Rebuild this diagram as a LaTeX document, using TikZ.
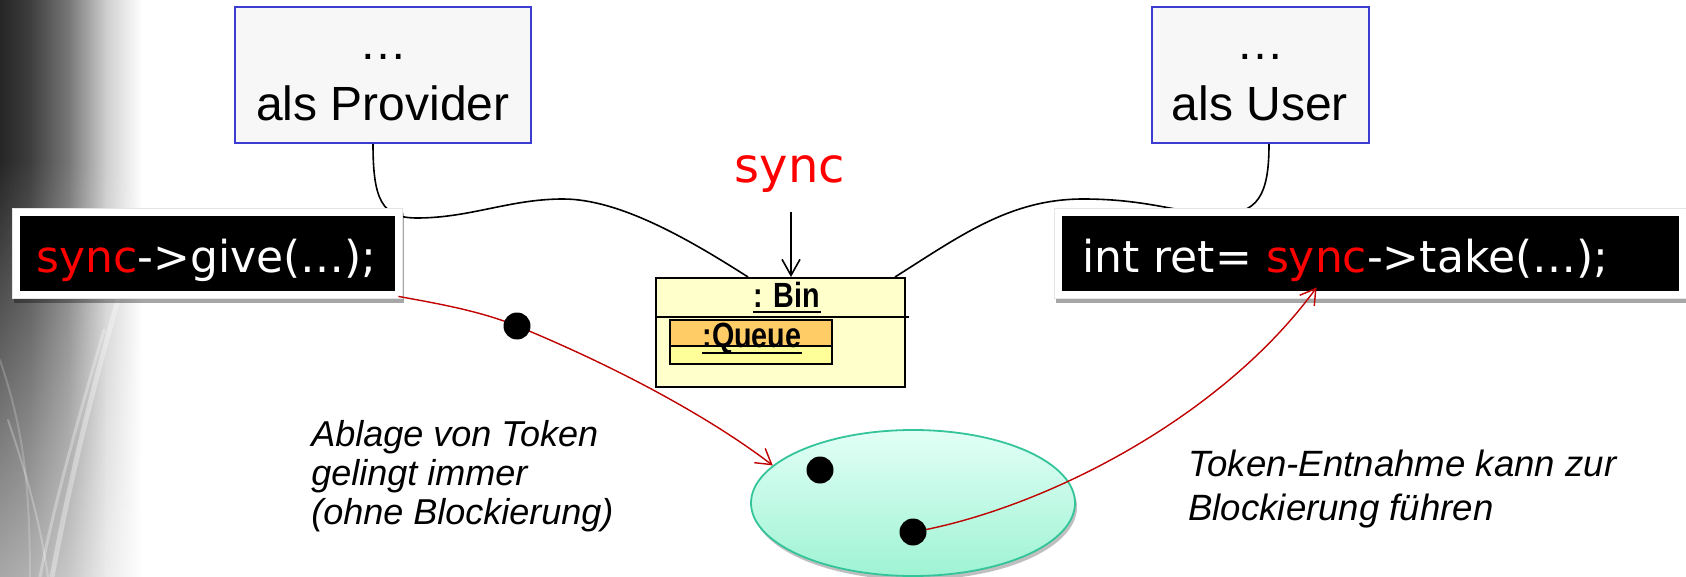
\documentclass[tikz,border=0pt]{standalone}
\usepackage{fontspec}
\setmainfont{Liberation Sans}
\newfontfamily\codefont{DejaVu Sans}
\newfontfamily\umlfont[FakeStretch=0.82]{Liberation Sans}
\usetikzlibrary{arrows.meta,shapes.geometric,shadows,fadings,calc}

\definecolor{boxblue}{HTML}{3C3CD2}
\definecolor{boxgray}{HTML}{F7F7F7}
\definecolor{binfill}{HTML}{FFFFCC}
\definecolor{qhead}{HTML}{FFCC66}
\definecolor{qbody}{HTML}{FFFF99}
\definecolor{poolline}{HTML}{33C49A}
\definecolor{pooltop}{HTML}{E2FFF6}
\definecolor{poolbot}{HTML}{9FF3D4}
\definecolor{flowred}{HTML}{C00000}
\definecolor{codered}{HTML}{FF0000}
\definecolor{stripA}{HTML}{262626}
\definecolor{stripB}{HTML}{3E3E3E}
\definecolor{stripC}{HTML}{7A7A7A}
\definecolor{stripD}{HTML}{CDCDCD}

\begin{document}
\begin{tikzpicture}[x=0.5pt,y=-0.5pt,
  rolebox/.style={draw=boxblue,line width=1pt,fill=boxgray,inner sep=0,
    minimum width=#1,minimum height=68pt},
  roletext/.style={font=\fontsize{24}{28}\selectfont,inner sep=0,anchor=base},
  codeframe/.style={fill=white,draw=black!10,line width=0.4pt,inner sep=0,
    minimum width=#1,minimum height=45pt,
    drop shadow={shadow xshift=1pt,shadow yshift=-2.5pt,opacity=0.35,fill=black}},
  codebg/.style={fill=black,inner sep=0,minimum width=#1,minimum height=37.5pt},
  codetext/.style={font=\codefont\fontsize{22}{26}\selectfont,text=white,
    inner sep=0,anchor=base west},
  synctext/.style={font=\codefont\fontsize{24}{28}\selectfont,text=codered,
    inner sep=0,anchor=base},
  umltext/.style={font=\umlfont\bfseries\fontsize{17.5}{20}\selectfont,
    inner sep=0,anchor=base},
  note/.style 2 args={font=\itshape\fontsize{#1}{#2}\selectfont,align=left,
    inner sep=0,anchor=north west},
  link/.style={line width=0.8pt},
  flow/.style={draw=flowred,line width=0.7pt,
    -{Straight Barb[length=7.5pt,width=9pt]}},
  token/.style={circle,fill=black,inner sep=0,minimum size=13.5pt},
  streak/.style={draw=white,line cap=round}]

\useasboundingbox (0,0) rectangle (1686,577);

% shaded strip along the left margin
\shade[left color=stripA,right color=stripB] (0,0) rectangle (31,577);
\shade[left color=stripB,right color=stripC] (30,0) rectangle (71,577);
\shade[left color=stripC,right color=stripD] (70,0) rectangle (106,577);
\shade[left color=stripD,right color=white] (105,0) rectangle (142,577);
\fill[white,path fading=north,fill opacity=0.6] (0,160) rectangle (142,577);
% faint fibres in the lower part of the strip
\draw[streak,line width=2.5pt,opacity=0.35] (52,577) .. controls (70,480) and (92,390) .. (118,300);
\draw[streak,line width=1.5pt,opacity=0.3] (40,577) .. controls (55,500) and (78,420) .. (104,330);
\draw[streak,line width=1pt,opacity=0.25] (8,420) .. controls (25,470) and (40,520) .. (48,577);
\draw[streak,line width=1pt,opacity=0.2] (0,360) .. controls (20,420) and (30,470) .. (30,577);

% roles
\node[rolebox=148pt] (prov) at (383,75) {};
\node[roletext] (provdots) at (383,60) {…};
\node[roletext] (provlbl) at (383,121) {als Provider};
\node[rolebox=108.5pt] (user) at (1260.5,75) {};
\node[roletext] (userdots) at (1260,60) {…};
\node[roletext] (userlbl) at (1260,121) {als User};

% the Bin object with its Queue part
\node[draw,line width=1pt,fill=binfill,inner sep=0,minimum width=124.5pt,
      minimum height=54.5pt] (bin) at (780.5,332.5) {};
\draw[line width=1pt] ($(bin.north west)+(0,40)$) -- ($(bin.north east)+(3,40)$);
\node[draw,line width=0.8pt,fill=qbody,inner sep=0,minimum width=81pt,
      minimum height=22pt] (queue) at (751,342) {};
\node[draw,line width=0.8pt,fill=qhead,inner sep=0,minimum width=81pt,
      minimum height=13pt] (qtop) at (751,333) {};
\node[umltext] (binlbl) at (787,307) {: Bin};
\draw[line width=1pt] ([yshift=-2.5pt]binlbl.base west) -- ([yshift=-2.5pt]binlbl.base east);
\node[umltext] (queuelbl) at (752,347) {:Queue};
\draw[line width=1pt] ([yshift=-3pt]queuelbl.base west) -- ([yshift=-3pt]queuelbl.base east);

% connections of the roles to the Bin
\coordinate (provfoot) at ($(prov.south)+(-10,0)$);
\coordinate (userfoot) at ($(user.south)+(8.5,0)$);
\coordinate (binL) at ($(bin.north)+(-32.5,0)$);
\coordinate (binR) at ($(bin.north)+(114.5,0)$);
\draw[link] (provfoot) .. controls (373,200) and (382,218) .. (417,218)
  .. controls (470,218) and (510,199) .. (563,199)
  .. controls (620,199) and (690,240) .. (binL);
\draw[link] (binR) .. controls (960,236) and (1010,199) .. (1083,199)
  .. controls (1150,199) and (1180,214) .. (1220,214)
  .. controls (1258,214) and (1269,195) .. (userfoot);

% reference name pointing at the Bin
\node[synctext] (synclbl) at (790,183) {sync};
\coordinate (syncfoot) at ($(synclbl.base)+(1,29)$);
\draw[link,-{Straight Barb[length=8pt,width=9pt]}] (syncfoot) -- ($(bin.north)+(10.5,0)$);

% code statements
\node[codeframe=195pt] (giveframe) at (207,253) {};
\node[codebg=187.5pt] (give) at (207.5,253.5) {};
\node[codetext] (givetxt) at (36,272) {\textcolor{codered}{sync}->give(…);};
\node[codeframe=316pt] (takeframe) at (1370,253) {};
\node[codebg=308.5pt] (take) at (1370.5,253.5) {};
\node[codetext] (taketxt) at (1082,272) {int ret= \textcolor{codered}{sync}->take(…);};

% token pool
\node[ellipse,draw=poolline,line width=0.9pt,top color=pooltop,bottom color=poolbot,
      inner sep=0,minimum width=162pt,minimum height=73pt,
      drop shadow={shadow xshift=1pt,shadow yshift=-2pt,opacity=0.25,fill=black}]
      (pool) at (913,503) {};

% token flow
\coordinate (tokinpos) at (517,326);
\coordinate (tokBpos) at (913,532);
\coordinate (gout) at ($(give.south east)+(3,5)$);
\coordinate (tin) at ($(take.south west)+(255,-4)$);
\draw[flow] (gout) .. controls (440,304) and (480,311) .. (tokinpos)
  .. controls (600,360) and (700,410) .. (pool.165);
\draw[flow] (tokBpos) .. controls (1040,510) and (1220,420) .. (tin);
\node[token] (tokin) at (tokinpos) {};
\node[token] (tokA) at (820,470) {};
\node[token] (tokB) at (tokBpos) {};

% remarks
\node[note={18}{19.5}] (ablage) at (311,420) {Ablage von Token\\gelingt immer\\(ohne Blockierung)};
\node[note={18.3}{22}] (entnahme) at (1188,450) {Token-Entnahme kann zur\\Blockierung führen};
\end{tikzpicture}
\end{document}
